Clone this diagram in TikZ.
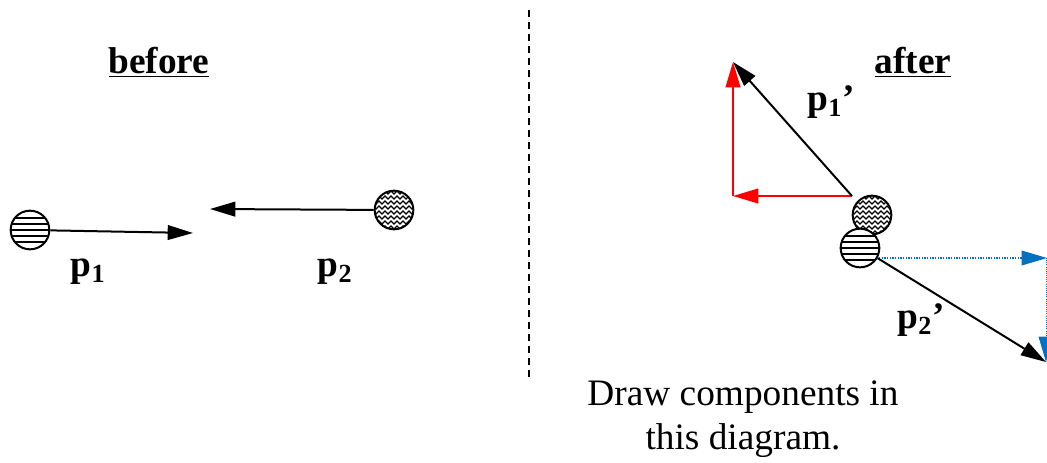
\documentclass[tikz,border=0pt]{standalone}
\usepackage{fontspec}
\setmainfont{Liberation Serif}
\usetikzlibrary{arrows.meta}
\definecolor{myblue}{RGB}{0,112,192}
\tikzset{
  big/.style={font=\fontsize{28}{33}\selectfont},
  arr/.style={line width=1.5pt,-{Triangle[length=19pt,width=11pt]}},
  ball/.style={circle,draw,line width=1.5pt,inner sep=0pt,minimum size=29pt,fill=white},
  striped/.style={ball,path picture={
      \begin{scope}[shift={(path picture bounding box.center)}]
        \foreach \d in {-12,-6,0,6,12} \draw[line width=1.3pt] (-25,\d) -- (25,\d);
      \end{scope}}},
  weave/.style={ball,path picture={
      \begin{scope}[shift={(path picture bounding box.center)}]
        \foreach \r in {-26,-21,...,26} \draw[line width=0.9pt] (-24,\r) \foreach \k in {0,...,7}{ -- ++(3,-3) -- ++(3,3)};
      \end{scope}}},
}
\begin{document}
\begin{tikzpicture}[x=0.75pt,y=-0.75pt]
\useasboundingbox (0,0) rectangle (1047,462);
% divider
\coordinate (dtop) at (529,10);
\coordinate (dbot) at (529,378);
\draw[dashed,line width=1pt,dash pattern=on 5pt off 4pt] (dtop) -- (dbot);
% titles
\node[big,font=\fontsize{28}{33}\selectfont\bfseries] (before) at (159,62) {\underline{before}};
\node[big,font=\fontsize{28}{33}\selectfont\bfseries] (after) at (913,62) {\underline{after}};
% before
\node[striped] (b1) at (30,230) {};
\node[weave] (b2) at (394,210) {};
\coordinate (b1e) at (193,233);
\coordinate (b2e) at (210,209);
\draw[arr] (b1) -- (b1e);
\draw[arr] (b2) -- (b2e);
\node[big] (p1) at (88,272) {\textbf{p}\textsubscript{\textbf{1}}};
\node[big] (p2) at (335,272) {\textbf{p}\textsubscript{\textbf{2}}};
% after
\coordinate (o1) at (852,196);
\coordinate (top1) at (733,62);
\coordinate (corner) at (733,196);
\draw[arr,red] (corner) -- (top1);
\draw[arr,red] (o1) -- (corner);
\draw[arr] (o1) -- (top1);
\node[weave] (a2) at (872,215) {};
\node[striped] (a1) at (860,248) {};
\coordinate (bh) at (1047,258);
\coordinate (bv) at (1046,362);
\coordinate (s2) at (879,258);
\draw[myblue,densely dotted,line width=1pt,-{Triangle[length=19pt,width=11pt]}] (s2) -- (bh);
\draw[myblue,densely dotted,line width=0.6pt,-{Triangle[length=19pt,width=11pt]}] (1046,258) -- (bv);
\draw[arr] (a1.-30) -- (bv);
\node[big] (p1p) at (831,102) {\textbf{p}\textsubscript{\textbf{1}}\textbf{’}};
\node[big] (p2p) at (921,320) {\textbf{p}\textsubscript{\textbf{2}}\textbf{’}};
% note
\node[big,align=center] (note) at (743,419) {Draw components in\\this diagram.};
\end{tikzpicture}
\end{document}
